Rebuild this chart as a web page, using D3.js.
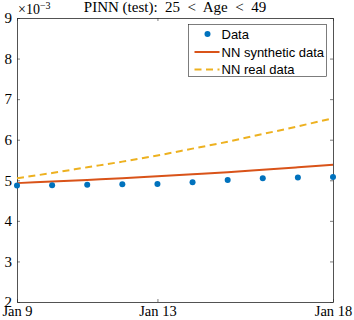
<!DOCTYPE html>
<html>
<head>
<meta charset="utf-8">
<script src="https://cdn.jsdelivr.net/npm/d3@7"></script>
<style>
	body { margin: 0; background: #fff; }
	svg { display: block; }
</style>
</head>
<body>
<div id="container"></div>
<script>
// chart data (values in units of 1e-3)
let days = ['2020-01-09', '2020-01-10', '2020-01-11', '2020-01-12', '2020-01-13',
	'2020-01-14', '2020-01-15', '2020-01-16', '2020-01-17', '2020-01-18'];
let dataValues = [4.87, 4.88, 4.89, 4.90, 4.91, 4.95, 5.01, 5.05, 5.07, 5.08];
let nnSynthetic = [4.93, 4.97, 5.01, 5.05, 5.10, 5.15, 5.20, 5.26, 5.32, 5.38];
let nnReal = [5.05, 5.18, 5.32, 5.46, 5.61, 5.78, 5.95, 6.14, 6.33, 6.53];
let yTicks = [2, 3, 4, 5, 6, 7, 8, 9];
let xTicks = ['2020-01-09', '2020-01-13', '2020-01-18'];
let legendLabels = ['Data', 'NN synthetic data', 'NN real data'];

window.onload = function () {
	'use strict';
	let options = {
		width: 354,
		height: 320,
		left: 17,
		right: 333,
		top: 18,
		bottom: 302,
		serif: '"Liberation Serif", "Times New Roman", serif',
		sans: '"Liberation Sans", Arial, sans-serif'
	};
	let colors = { data: '#0072BD', syn: '#D95319', real: '#EDB120', axis: '#262626' };
	let parse = d3.timeParse('%Y-%m-%d');

	let svg = d3.select('#container')
		.append('svg')
		.attr('width', options.width)
		.attr('height', options.height);

	let x = d3.scaleTime()
		.domain([parse(days[0]), parse(days[days.length - 1])])
		.range([options.left, options.right]);
	let y = d3.scaleLinear()
		.domain([2, 9])
		.range([options.bottom, options.top]);

	let fmt = d3.timeFormat('%b %-d');
	let tickLen = 3;

	// axes: ticks inward, mirrored on all sides
	let bottomAxis = d3.axisBottom(x).tickValues(xTicks.map(parse)).tickFormat(fmt)
		.tickSizeInner(-tickLen).tickSizeOuter(0).tickPadding(4);
	let topAxis = d3.axisTop(x).tickValues(xTicks.map(parse)).tickFormat('')
		.tickSizeInner(-tickLen).tickSizeOuter(0);
	let leftAxis = d3.axisLeft(y).tickValues(yTicks).tickFormat(d3.format('d'))
		.tickSizeInner(-tickLen).tickSizeOuter(0).tickPadding(5);
	let rightAxis = d3.axisRight(y).tickValues(yTicks).tickFormat('')
		.tickSizeInner(-tickLen).tickSizeOuter(0);

	function styleAxis(g, size) {
		g.select('.domain').attr('stroke', colors.axis).attr('stroke-width', 0.8);
		g.selectAll('.tick line').attr('stroke', colors.axis).attr('stroke-width', 0.6);
		g.selectAll('.tick text')
			.attr('fill', '#000')
			.style('font-family', options.serif)
			.style('font-size', size + 'px');
	}

	svg.append('g').attr('transform', 'translate(0,' + options.bottom + ')').call(bottomAxis).call(styleAxis, 14.5);
	svg.append('g').attr('transform', 'translate(0,' + options.top + ')').call(topAxis).call(styleAxis, 15);
	svg.append('g').attr('transform', 'translate(' + options.left + ',0)').call(leftAxis).call(styleAxis, 15);
	svg.append('g').attr('transform', 'translate(' + options.right + ',0)').call(rightAxis).call(styleAxis, 15);

	// exponent label
	let expo = svg.append('text')
		.attr('x', options.left + 1)
		.attr('y', 14)
		.style('font-family', options.serif)
		.style('font-size', '14px')
		.attr('fill', '#000');
	expo.append('tspan').text('\u00d710');
	expo.append('tspan').attr('dy', -5).style('font-size', '10px').text('\u22123');

	// title
	svg.append('text')
		.attr('x', (options.left + options.right) / 2)
		.attr('y', 12)
		.attr('text-anchor', 'middle')
		.style('font-family', options.serif)
		.style('font-size', '15px')
		.style('white-space', 'pre')
		.attr('fill', '#000')
		.text('PINN (test):  25  <  Age  <  49');

	let pts = days.map((d, i) => ({ date: parse(d), data: dataValues[i], syn: nnSynthetic[i], real: nnReal[i] }));

	let line = (key) => d3.line()
		.x(d => x(d.date))
		.y(d => y(d[key]))
		.curve(d3.curveMonotoneX);

	svg.append('path')
		.datum(pts)
		.attr('fill', 'none')
		.attr('stroke', colors.real)
		.attr('stroke-width', 2)
		.attr('stroke-dasharray', '7,4.5')
		.attr('d', line('real'));

	svg.append('path')
		.datum(pts)
		.attr('fill', 'none')
		.attr('stroke', colors.syn)
		.attr('stroke-width', 2)
		.attr('d', line('syn'));

	svg.selectAll('circle.data')
		.data(pts)
		.enter()
		.append('circle')
		.attr('class', 'data')
		.attr('cx', d => x(d.date))
		.attr('cy', d => y(d.data))
		.attr('r', 3)
		.attr('fill', colors.data);

	// legend
	let lg = svg.append('g').attr('transform', 'translate(188.5,24.5)');
	lg.append('rect')
		.attr('width', 138)
		.attr('height', 52)
		.attr('fill', '#fff')
		.attr('stroke', colors.axis)
		.attr('stroke-width', 0.6);
	let rowY = [9.5, 27.5, 45];
	legendLabels.forEach((label, i) => {
		let row = lg.append('g').attr('transform', 'translate(0,' + rowY[i] + ')');
		if (i === 0) {
			row.append('circle').attr('cx', 19).attr('cy', 0).attr('r', 3).attr('fill', colors.data);
		} else {
			row.append('line')
				.attr('x1', 6).attr('x2', 31).attr('y1', 0).attr('y2', 0)
				.attr('stroke', i === 1 ? colors.syn : colors.real)
				.attr('stroke-width', 2)
				.attr('stroke-dasharray', i === 2 ? '7,4.5' : null);
		}
		row.append('text')
			.attr('x', 33)
			.attr('y', 0)
			.attr('dy', '0.35em')
			.style('font-family', options.sans)
			.style('font-size', '13px')
			.attr('fill', '#000')
			.text(label);
	});
};
</script>
</body>
</html>
